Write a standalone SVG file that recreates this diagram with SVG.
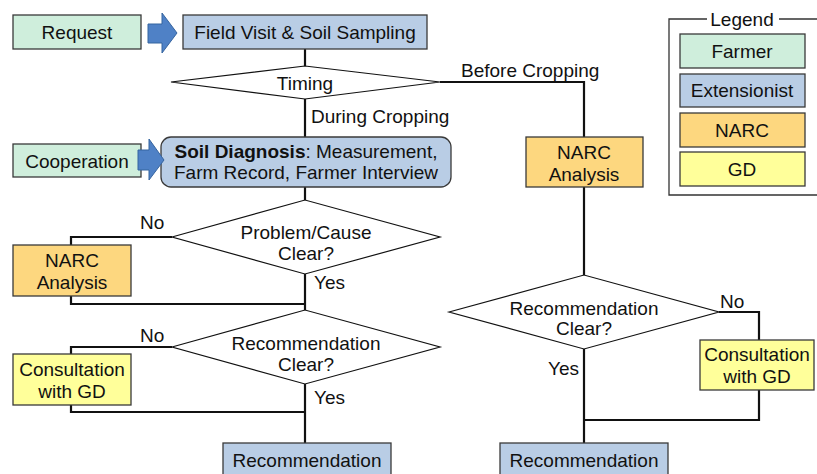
<svg xmlns="http://www.w3.org/2000/svg" width="817" height="474" viewBox="0 0 817 474">
<style>
text{font-family:"Liberation Sans",Arial,sans-serif;font-size:19px;fill:#111;text-anchor:middle;dominant-baseline:central}
.lbl{text-anchor:start}
.box{stroke:#3a3a3a;stroke-width:1.3}
.farmer{fill:#CFEEDC}
.ext{fill:#B9CDE5}
.narc{fill:#FDD77F}
.gd{fill:#FFFF9A}
.dia{fill:#fff;stroke:#111;stroke-width:1.2}
.arr{fill:#4F81C6;stroke:#35649f;stroke-width:1}
.con{fill:none;stroke:#111;stroke-width:2.2}
</style>
<g id="connectors">
<path class="con" d="M305 49V66"/>
<path class="con" d="M305 99V137"/>
<path class="con" d="M440 82H584V137"/>
<path class="con" d="M305 187V200"/>
<path class="con" d="M172 237H71V245"/>
<path class="con" d="M71 296V304H305"/>
<path class="con" d="M305 274V310"/>
<path class="con" d="M172 347H71V354"/>
<path class="con" d="M71 405V412H305"/>
<path class="con" d="M305 384V443"/>
<path class="con" d="M584 187V275"/>
<path class="con" d="M719 312H759V340"/>
<path class="con" d="M759 390V420H584"/>
<path class="con" d="M584 349V443"/>
<text class="lbl" x="461" y="70">Before Cropping</text>
<text class="lbl" x="311" y="116">During Cropping</text>
<text class="lbl" x="140" y="222">No</text>
<text class="lbl" x="314" y="282">Yes</text>
<text class="lbl" x="140" y="335">No</text>
<text class="lbl" x="314" y="397">Yes</text>
<text class="lbl" x="720" y="301">No</text>
<text class="lbl" x="548" y="368">Yes</text>
</g>
<g id="request">
<rect class="box farmer" x="13" y="15" width="128" height="34"/>
<text x="77" y="32">Request</text>
</g>
<g id="arrow1">
<path class="arr" d="M148 24H162V13L177 33L162 53V43H148Z"/>
</g>
<g id="field-visit">
<rect class="box ext" x="183" y="15" width="244" height="34"/>
<text x="305" y="32">Field Visit &amp; Soil Sampling</text>
</g>
<g id="timing">
<path class="dia" d="M171 82L305 66L440 82L305 99Z"/>
<text x="305" y="83">Timing</text>
</g>
<g id="cooperation">
<rect class="box farmer" x="13" y="144" width="128" height="33"/>
<text x="77" y="161">Cooperation</text>
</g>
<g id="soil-diagnosis">
<rect class="box ext" x="161" y="137" width="290" height="50" rx="10"/>
<text x="306" y="151"><tspan font-weight="bold">Soil Diagnosis</tspan>: Measurement,</text>
<text x="306" y="172">Farm Record, Farmer Interview</text>
</g>
<g id="arrow2">
<path class="arr" d="M138 150H149V139L164 160L149 180V170H138Z"/>
</g>
<g id="narc-right">
<rect class="box narc" x="526" y="137" width="117" height="50"/>
<text x="584" y="152">NARC</text>
<text x="584" y="174">Analysis</text>
</g>
<g id="legend">
<path d="M707 19H669V195H817M779 19H817" fill="none" stroke="#333" stroke-width="1.3"/>
<text x="742" y="19">Legend</text>
<rect class="box farmer" x="680" y="34" width="125" height="34"/>
<text x="742" y="51">Farmer</text>
<rect class="box ext" x="680" y="74" width="125" height="33"/>
<text x="742" y="90">Extensionist</text>
<rect class="box narc" x="680" y="113" width="125" height="34"/>
<text x="742" y="130">NARC</text>
<rect class="box gd" x="680" y="152" width="125" height="34"/>
<text x="742" y="169">GD</text>
</g>
<g id="problem-clear">
<path class="dia" d="M172 237L305 200L440 237L305 274Z"/>
<text x="306" y="232">Problem/Cause</text>
<text x="306" y="253">Clear?</text>
</g>
<g id="narc-left">
<rect class="box narc" x="13" y="245" width="118" height="51"/>
<text x="72" y="260">NARC</text>
<text x="72" y="282">Analysis</text>
</g>
<g id="rec-clear-left">
<path class="dia" d="M172 347L305 310L440 347L305 384Z"/>
<text x="306" y="343">Recommendation</text>
<text x="306" y="364">Clear?</text>
</g>
<g id="consult-left">
<rect class="box gd" x="13" y="354" width="118" height="51"/>
<text x="72" y="369">Consultation</text>
<text x="72" y="391">with GD</text>
</g>
<g id="rec-left">
<rect class="box ext" x="223" y="443" width="168" height="40"/>
<text x="307" y="460">Recommendation</text>
</g>
<g id="rec-clear-right">
<path class="dia" d="M449 312L584 275L719 312L584 349Z"/>
<text x="584" y="308">Recommendation</text>
<text x="584" y="328">Clear?</text>
</g>
<g id="consult-right">
<rect class="box gd" x="700" y="340" width="114" height="50"/>
<text x="757" y="354">Consultation</text>
<text x="757" y="376">with GD</text>
</g>
<g id="rec-right">
<rect class="box ext" x="500" y="443" width="168" height="40"/>
<text x="584" y="460">Recommendation</text>
</g>
</svg>
